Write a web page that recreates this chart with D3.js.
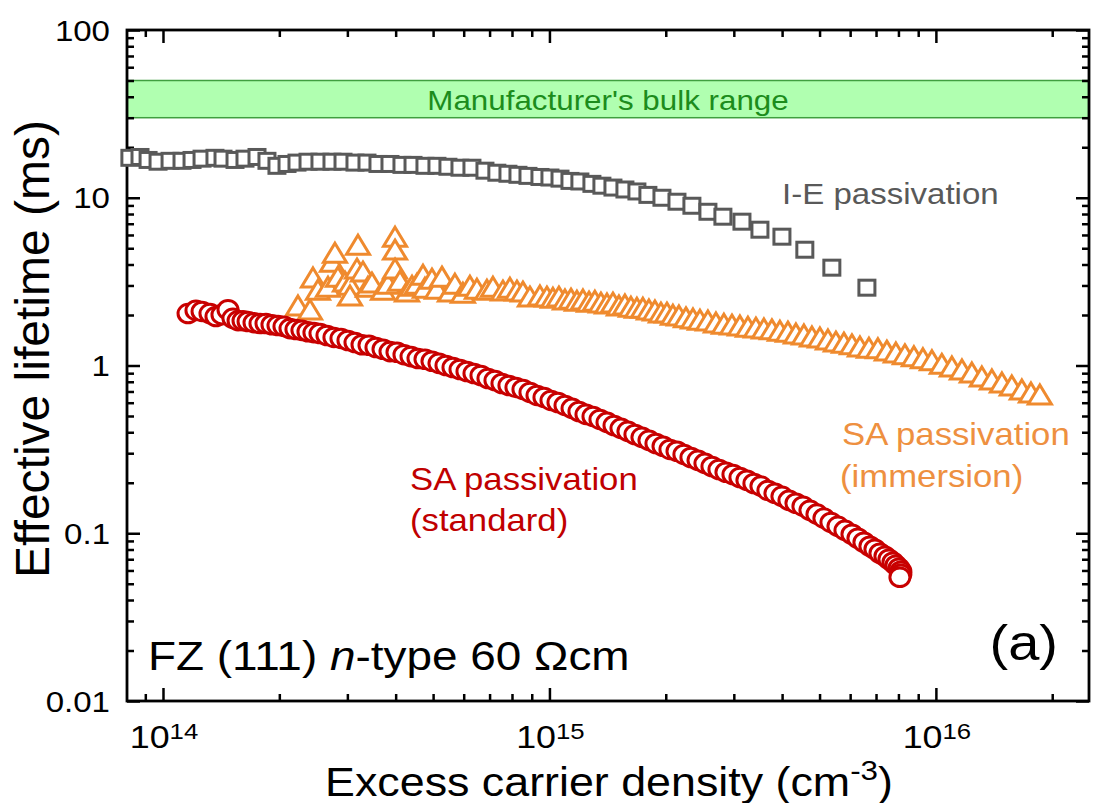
<!DOCTYPE html>
<html>
<head>
<meta charset="utf-8">
<script src="https://cdn.jsdelivr.net/npm/d3@7"></script>
<style>
body { margin: 0; background: #fff; }
svg { display: block; }
text { font-family: "Liberation Sans", Arial, sans-serif; }
</style>
</head>
<body>
<svg id="chart" width="1117" height="803"></svg>
<script>

// axis ticks and labels
var xMajorTicks = [1e14, 1e15, 1e16];
var xTickExponents = ['14', '15', '16'];
var yMajorTicks = [100, 10, 1, 0.1, 0.01];
var yTickLabels = ['100', '10', '1', '0.1', '0.01'];

// manufacturer's bulk lifetime range (ms)
var bulkRange = [30, 50];

// I-E passivation: [excess carrier density (cm-3), lifetime (ms)]
var ieData = [
    [8.21e13, 17.3], [8.72e13, 17.5], [9.15e13, 16.8], [9.71e13, 16.4], [1.043e14, 16.6],
    [1.120e14, 16.6], [1.189e14, 16.8], [1.262e14, 17.1], [1.363e14, 17.3], [1.430e14, 17.1],
    [1.536e14, 16.8], [1.630e14, 17.1], [1.751e14, 17.5], [1.858e14, 16.6], [1.972e14, 15.5],
    [2.094e14, 15.9], [2.222e14, 16.2], [2.373e14, 16.4], [2.548e14, 16.4], [2.737e14, 16.4],
    [2.923e14, 16.4], [3.139e14, 16.2], [3.372e14, 16.2], [3.600e14, 15.9], [3.867e14, 15.9],
    [4.153e14, 15.7], [4.436e14, 15.7], [4.763e14, 15.5], [5.116e14, 15.5], [5.462e14, 15.3],
    [5.868e14, 15.1], [6.302e14, 15.1], [6.81e14, 14.5], [7.31e14, 14.1], [7.81e14, 13.9],
    [8.29e14, 13.7], [8.80e14, 13.5], [9.45e14, 13.3], [1.003e15, 13.2], [1.065e15, 13.0],
    [1.130e15, 12.6], [1.199e15, 12.5], [1.288e15, 12.1], [1.367e15, 11.8], [1.460e15, 11.5],
    [1.568e15, 11.2], [1.684e15, 10.9], [1.798e15, 10.4], [1.955e15, 10.0], [2.138e15, 9.47],
    [2.337e15, 8.96], [2.571e15, 8.25], [2.811e15, 7.71], [3.149e15, 7.20], [3.505e15, 6.45],
    [3.996e15, 5.86], [4.58e15, 4.90], [5.38e15, 3.83], [6.63e15, 2.91]
];

// SA passivation (immersion)
var saImmersionData = [
    [2.235e14, 2.25], [2.401e14, 2.13], [2.444e14, 3.30], [2.518e14, 2.79], [2.673e14, 2.91],
    [2.737e14, 4.10], [2.786e14, 4.64], [2.836e14, 3.34], [2.958e14, 3.12], [3.047e14, 2.99],
    [3.047e14, 2.58], [3.177e14, 3.73], [3.196e14, 5.18], [3.292e14, 3.58], [3.392e14, 2.91],
    [3.473e14, 3.08], [3.710e14, 2.79], [3.822e14, 3.03], [3.985e14, 5.78], [3.985e14, 4.84],
    [3.985e14, 3.73], [4.105e14, 3.16], [4.280e14, 2.72], [4.410e14, 2.95], [4.543e14, 3.03],
    [4.708e14, 3.43], [4.763e14, 2.87], [4.966e14, 3.25], [5.116e14, 2.83], [5.271e14, 3.34],
    [5.528e14, 2.72], [5.694e14, 3.03], [5.972e14, 2.68], [6.227e14, 2.95], [6.492e14, 2.83],
    [6.891e14, 2.79], [7.142e14, 2.91], [7.580e14, 2.76], [7.903e14, 2.87], [8.240e14, 2.76],
    [8.539e14, 2.72], [8.903e14, 2.54], [9.450e14, 2.58], [9.851e14, 2.54],
    [1.021e15, 2.50], [1.058e15, 2.54], [1.097e15, 2.44], [1.137e15, 2.47], [1.178e15, 2.40],
    [1.221e15, 2.44], [1.266e15, 2.37], [1.311e15, 2.40], [1.359e15, 2.34], [1.409e15, 2.31],
    [1.460e15, 2.34], [1.513e15, 2.25], [1.568e15, 2.28], [1.625e15, 2.21], [1.684e15, 2.18],
    [1.745e15, 2.18], [1.809e15, 2.13], [1.875e15, 2.10], [1.943e15, 2.04], [2.014e15, 2.04],
    [2.087e15, 1.98], [2.163e15, 1.96], [2.256e15, 1.91], [2.352e15, 1.88], [2.452e15, 1.85],
    [2.571e15, 1.83], [2.697e15, 1.78], [2.828e15, 1.75], [2.967e15, 1.73], [3.111e15, 1.71],
    [3.263e15, 1.68], [3.422e15, 1.66], [3.589e15, 1.64], [3.764e15, 1.62], [3.948e15, 1.59],
    [4.141e15, 1.57], [4.343e15, 1.53], [4.555e15, 1.51], [4.778e15, 1.47], [5.011e15, 1.45],
    [5.256e15, 1.41], [5.512e15, 1.37], [5.781e15, 1.35], [6.064e15, 1.32], [6.360e15, 1.28],
    [6.711e15, 1.26], [7.079e15, 1.25], [7.467e15, 1.21], [7.879e15, 1.18], [8.314e15, 1.15],
    [8.772e15, 1.12], [9.256e15, 1.09], [9.766e15, 1.06], [1.036e16, 1.01], [1.100e16, 0.973],
    [1.168e16, 0.934], [1.239e16, 0.896], [1.315e16, 0.848], [1.396e16, 0.814], [1.482e16, 0.781],
    [1.572e16, 0.750], [1.669e16, 0.710], [1.762e16, 0.681], [1.858e16, 0.663]
];

// SA passivation (standard)
var saStandardData = [
    [1.161e14, 2.04], [1.217e14, 2.13], [1.262e14, 2.10], [1.323e14, 2.04], [1.371e14, 1.96],
    [1.421e14, 2.01], [1.473e14, 2.15], [1.517e14, 1.91], [1.564e14, 1.85], [1.611e14, 1.85],
    [1.660e14, 1.83], [1.720e14, 1.80], [1.782e14, 1.78], [1.847e14, 1.78], [1.914e14, 1.75],
    [1.984e14, 1.73], [2.056e14, 1.71], [2.131e14, 1.66], [2.208e14, 1.64], [2.288e14, 1.62],
    [2.372e14, 1.59], [2.458e14, 1.57], [2.548e14, 1.55], [2.656e14, 1.51], [2.769e14, 1.47],
    [2.887e14, 1.45], [3.010e14, 1.41], [3.139e14, 1.37], [3.273e14, 1.33], [3.412e14, 1.32],
    [3.557e14, 1.28], [3.709e14, 1.25], [3.867e14, 1.21], [4.031e14, 1.20], [4.203e14, 1.16],
    [4.383e14, 1.13], [4.569e14, 1.10], [4.763e14, 1.09], [4.966e14, 1.06], [5.177e14, 1.03],
    [5.398e14, 1.00], [5.628e14, 0.973], [5.868e14, 0.947], [6.117e14, 0.921], [6.378e14, 0.896],
    [6.649e14, 0.872], [6.932e14, 0.837], [7.227e14, 0.814], [7.535e14, 0.781], [7.855e14, 0.760],
    [8.190e14, 0.740], [8.539e14, 0.720], [8.903e14, 0.691], [9.284e14, 0.663], [9.678e14, 0.645],
    [1.009e15, 0.619], [1.052e15, 0.602], [1.097e15, 0.578], [1.144e15, 0.555], [1.192e15, 0.532],
    [1.243e15, 0.511], [1.296e15, 0.497], [1.351e15, 0.477], [1.409e15, 0.458], [1.469e15, 0.439],
    [1.531e15, 0.422], [1.596e15, 0.405], [1.664e15, 0.388], [1.735e15, 0.373], [1.809e15, 0.358],
    [1.886e15, 0.343], [1.967e15, 0.330], [2.050e15, 0.316], [2.138e15, 0.308], [2.228e15, 0.295],
    [2.323e15, 0.283], [2.423e15, 0.272], [2.525e15, 0.261], [2.633e15, 0.250], [2.745e15, 0.240],
    [2.862e15, 0.231], [2.984e15, 0.224], [3.111e15, 0.215], [3.243e15, 0.207], [3.381e15, 0.198],
    [3.525e15, 0.191], [3.675e15, 0.180], [3.832e15, 0.173], [3.995e15, 0.166], [4.166e15, 0.157],
    [4.343e15, 0.151], [4.528e15, 0.145], [4.721e15, 0.137], [4.922e15, 0.130], [5.131e15, 0.123],
    [5.350e15, 0.116], [5.578e15, 0.110], [5.816e15, 0.104], [6.064e15, 0.0987], [6.284e15, 0.0934],
    [6.512e15, 0.0884], [6.749e15, 0.0837], [6.953e15, 0.0803], [7.164e15, 0.0760], [7.380e15, 0.0730],
    [7.558e15, 0.0700], [7.741e15, 0.0672], [7.880e15, 0.0645], [8.023e15, 0.0619], [8.118e15, 0.0594],
    [8.118e15, 0.0570], [8.070e15, 0.0547]
];


var svg = d3.select('#chart');

var plotLeft = 127, plotRight = 1089, plotTop = 30, plotBottom = 701;
var stretch = 1.12;   // the original figure is a bit wider than tall

var x = d3.scaleLog().domain([8.07e13, 2.49e16]).range([plotLeft, plotRight]);
var y = d3.scaleLog().domain([0.01, 100]).range([plotBottom, plotTop]);

function isPow10(v) {
    var l = Math.log10(v);
    return Math.abs(l - Math.round(l)) < 1e-6;
}
var xMinor = x.ticks().filter(function (d) { return !isPow10(d); });
var yMinor = y.ticks().filter(function (d) { return !isPow10(d); });

// text helper, stretched horizontally like the source image
function label(xp, yp, size, color, anchor) {
    return svg.append('text')
        .attr('transform', 'translate(' + xp + ',' + yp + ') scale(' + stretch + ',1)')
        .attr('font-size', size)
        .attr('fill', color)
        .attr('text-anchor', anchor || 'start');
}

// bulk range band
svg.append('rect')
    .attr('x', plotLeft)
    .attr('y', y(bulkRange[1]))
    .attr('width', plotRight - plotLeft)
    .attr('height', y(bulkRange[0]) - y(bulkRange[1]))
    .attr('fill', '#b0ffb0')
    .attr('stroke', '#3f9f3f')
    .attr('stroke-width', 1.5);

label((plotLeft + plotRight) / 2, 110, 28, '#1c8c1c', 'middle')
    .text("Manufacturer's bulk range");

// ticks on all four sides, pointing inward
function tickAxis(axisFn, scale, values, size, tx, ty) {
    var g = svg.append('g')
        .attr('transform', 'translate(' + tx + ',' + ty + ')')
        .call(axisFn(scale).tickValues(values).tickSize(-size).tickFormat(''));
    g.select('.domain').remove();
    g.selectAll('.tick line').attr('stroke', '#000').attr('stroke-width', 2.5);
}
tickAxis(d3.axisBottom, x, xMajorTicks, 13, 0, plotBottom);
tickAxis(d3.axisBottom, x, xMinor, 7, 0, plotBottom);
tickAxis(d3.axisTop, x, xMajorTicks, 13, 0, plotTop);
tickAxis(d3.axisTop, x, xMinor, 7, 0, plotTop);
tickAxis(d3.axisLeft, y, yMajorTicks, 13, plotLeft, 0);
tickAxis(d3.axisLeft, y, yMinor, 7, plotLeft, 0);
tickAxis(d3.axisRight, y, yMajorTicks, 13, plotRight, 0);
tickAxis(d3.axisRight, y, yMinor, 7, plotRight, 0);

// frame
svg.append('rect')
    .attr('x', plotLeft).attr('y', plotTop)
    .attr('width', plotRight - plotLeft).attr('height', plotBottom - plotTop)
    .attr('fill', 'none').attr('stroke', '#000').attr('stroke-width', 2.8);

// tick labels
yMajorTicks.forEach(function (v, i) {
    label(110, y(v) + 10.5, 29.5, '#000', 'end').text(yTickLabels[i]);
});
xMajorTicks.forEach(function (v, i) {
    var t = label(x(v) + 1, 748, 32, '#000', 'middle');
    t.append('tspan').text('10');
    t.append('tspan').attr('font-size', 23).attr('dy', -9).text(xTickExponents[i]);
});

// axis titles
var xt = label((plotLeft + plotRight) / 2 + 1, 796, 40, '#000', 'middle');
xt.append('tspan').text('Excess carrier density (cm');
xt.append('tspan').attr('font-size', 28).attr('dy', -16).text('-3');
xt.append('tspan').attr('dy', 16).text(')');

svg.append('text')
    .attr('transform', 'translate(49,349) rotate(-90)')
    .attr('font-size', 48)
    .attr('text-anchor', 'middle')
    .text('Effective lifetime (ms)');

// data series
svg.append('g').selectAll('rect')
    .data(ieData)
    .enter()
    .append('rect')
    .attr('x', function (d) { return x(d[0]) - 8; })
    .attr('y', function (d) { return y(d[1]) - 7.5; })
    .attr('width', 16)
    .attr('height', 15)
    .attr('fill', '#fff')
    .attr('stroke', '#595959')
    .attr('stroke-width', 3);

svg.append('g').selectAll('path')
    .data(saImmersionData)
    .enter()
    .append('path')
    .attr('transform', function (d) { return 'translate(' + x(d[0]) + ',' + y(d[1]) + ')'; })
    .attr('d', 'M0,-10.5L11.5,8.5L-11.5,8.5Z')
    .attr('fill', '#fff')
    .attr('stroke', '#ef8a2e')
    .attr('stroke-width', 3)
    .attr('stroke-linejoin', 'miter');

svg.append('g').selectAll('ellipse')
    .data(saStandardData)
    .enter()
    .append('ellipse')
    .attr('cx', function (d) { return x(d[0]); })
    .attr('cy', function (d) { return y(d[1]); })
    .attr('rx', 10)
    .attr('ry', 9.3)
    .attr('fill', '#fff')
    .attr('stroke', '#c80000')
    .attr('stroke-width', 3);

// annotations
label(782, 204, 29.5, '#595959').text('I-E passivation');

label(842, 445, 31, '#ee9040').text('SA passivation');
label(840, 487, 31, '#ee9040').text('(immersion)');

label(410, 490, 31, '#c00000').text('SA passivation');
label(410, 531, 31, '#c00000').text('(standard)');

var fz = label(148, 670, 41, '#000');
fz.append('tspan').text('FZ (111) ');
fz.append('tspan').attr('font-style', 'italic').text('n');
fz.append('tspan').text('-type 60 \u03A9cm');

label(1058, 660, 50, '#000', 'end').text('(a)');

</script>
</body>
</html>
